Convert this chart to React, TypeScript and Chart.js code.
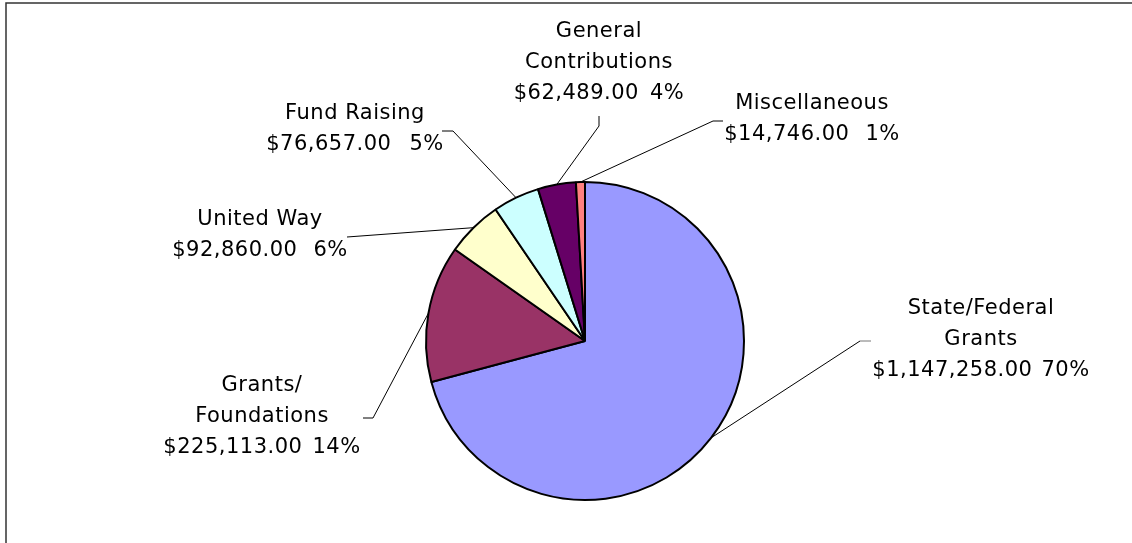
import React, { useEffect, useRef } from "react";
import { Chart, registerables } from "chart.js";

Chart.register(...registerables);

// ---- data ----
const categories = [
  "State/Federal Grants",
  "Grants/ Foundations",
  "United Way",
  "Fund Raising",
  "General Contributions",
  "Miscellaneous",
];
const nameLines = [
  ["State/Federal", "Grants"],
  ["Grants/", "Foundations"],
  ["United Way"],
  ["Fund Raising"],
  ["General", "Contributions"],
  ["Miscellaneous"],
];
const amounts = [1147258, 225113, 92860, 76657, 62489, 14746];
const percentLabels = ["70%", "14%", "6%", "5%", "4%", "1%"];
const sliceColors = ["#9999FF", "#993366", "#FFFFCC", "#CCFFFF", "#660066", "#FF8080"];

// ---- layout (label placement, not data) ----
type Layout = { cx: number; y: number; gap: number; elbow: [number, number]; tick: [number, number] | null };
const labelLayout: Layout[] = [
  { cx: 981, y: 309, gap: 9, elbow: [860, 341], tick: [871, 341] },
  { cx: 262, y: 386, gap: 10, elbow: [373, 418], tick: [363, 418] },
  { cx: 260, y: 220, gap: 16, elbow: [347, 237], tick: null },
  { cx: 355, y: 114, gap: 18, elbow: [453, 131], tick: [442, 131] },
  { cx: 599, y: 31.5, gap: 11, elbow: [599, 126], tick: [599, 116] },
  { cx: 812, y: 103.5, gap: 16, elbow: [713, 121], tick: [723, 121] },
];
const LINE_H = 31;
const FONT = '21px "DejaVu Sans"';

const fmtMoney = (v: number) =>
  "$" + v.toLocaleString("en-US", { minimumFractionDigits: 2, maximumFractionDigits: 2 });

const labelPlugin = {
  id: "excelLabels",
  afterDraw(chart: any) {
    const ctx = chart.ctx as CanvasRenderingContext2D;
    ctx.save();
    // outer frame (left and top edges visible)
    ctx.strokeStyle = "#333";
    ctx.lineWidth = 1.5;
    ctx.beginPath();
    ctx.moveTo(6, 560);
    ctx.lineTo(6, 3);
    ctx.lineTo(1140, 3);
    ctx.stroke();

    const meta = chart.getDatasetMeta(0);
    meta.data.forEach((arc: any, i: number) => {
      const L = labelLayout[i];
      const mid = (arc.startAngle + arc.endAngle) / 2;
      const px = arc.x + Math.cos(mid) * arc.outerRadius;
      const py = arc.y + Math.sin(mid) * arc.outerRadius;
      // leader line
      ctx.strokeStyle = "#000";
      ctx.lineWidth = 1;
      ctx.beginPath();
      ctx.moveTo(px, py);
      ctx.lineTo(L.elbow[0], L.elbow[1]);
      ctx.stroke();
      if (L.tick) {
        ctx.strokeStyle = i === 0 ? "#777" : "#000";
        ctx.beginPath();
        ctx.moveTo(L.elbow[0], L.elbow[1]);
        ctx.lineTo(L.tick[0], L.tick[1]);
        ctx.stroke();
      }
      // label text
      ctx.font = FONT;
      (ctx as any).letterSpacing = "0.5px";
      ctx.fillStyle = "#000";
      ctx.textBaseline = "middle";
      const lines = nameLines[i];
      ctx.textAlign = "center";
      lines.forEach((t, k) => {
        ctx.fillText(t, L.cx, L.y + k * LINE_H);
      });
      const vy = L.y + lines.length * LINE_H;
      const money = fmtMoney(amounts[i]);
      const pct = percentLabels[i];
      const wm = ctx.measureText(money).width;
      const wp = ctx.measureText(pct).width;
      const total = wm + L.gap + wp;
      const x0 = L.cx - total / 2;
      ctx.textAlign = "left";
      ctx.fillText(money, x0, vy);
      ctx.fillText(pct, x0 + wm + L.gap, vy);
    });
    ctx.restore();
  },
};

export default function App() {
  const ref = useRef<HTMLCanvasElement | null>(null);
  useEffect(() => {
    if (!ref.current) return;
    const chart = new Chart(ref.current, {
      type: "pie",
      data: {
        labels: categories,
        datasets: [
          {
            data: amounts,
            backgroundColor: sliceColors,
            borderColor: "#000",
            borderWidth: 2,
          },
        ],
      },
      options: {
        responsive: false,
        animation: false,
        layout: { padding: { left: 425, right: 387, top: 181, bottom: 42 } },
        plugins: {
          legend: { display: false },
          tooltip: { enabled: false },
          title: { display: false },
        },
      },
      plugins: [labelPlugin],
    });
    return () => chart.destroy();
  }, []);
  return (
    <div style={{ position: "fixed", left: 0, top: 0, width: 1132, height: 543, background: "#fff" }}>
      <canvas ref={ref} width={1132} height={543} style={{ display: "block" }} />
    </div>
  );
}
